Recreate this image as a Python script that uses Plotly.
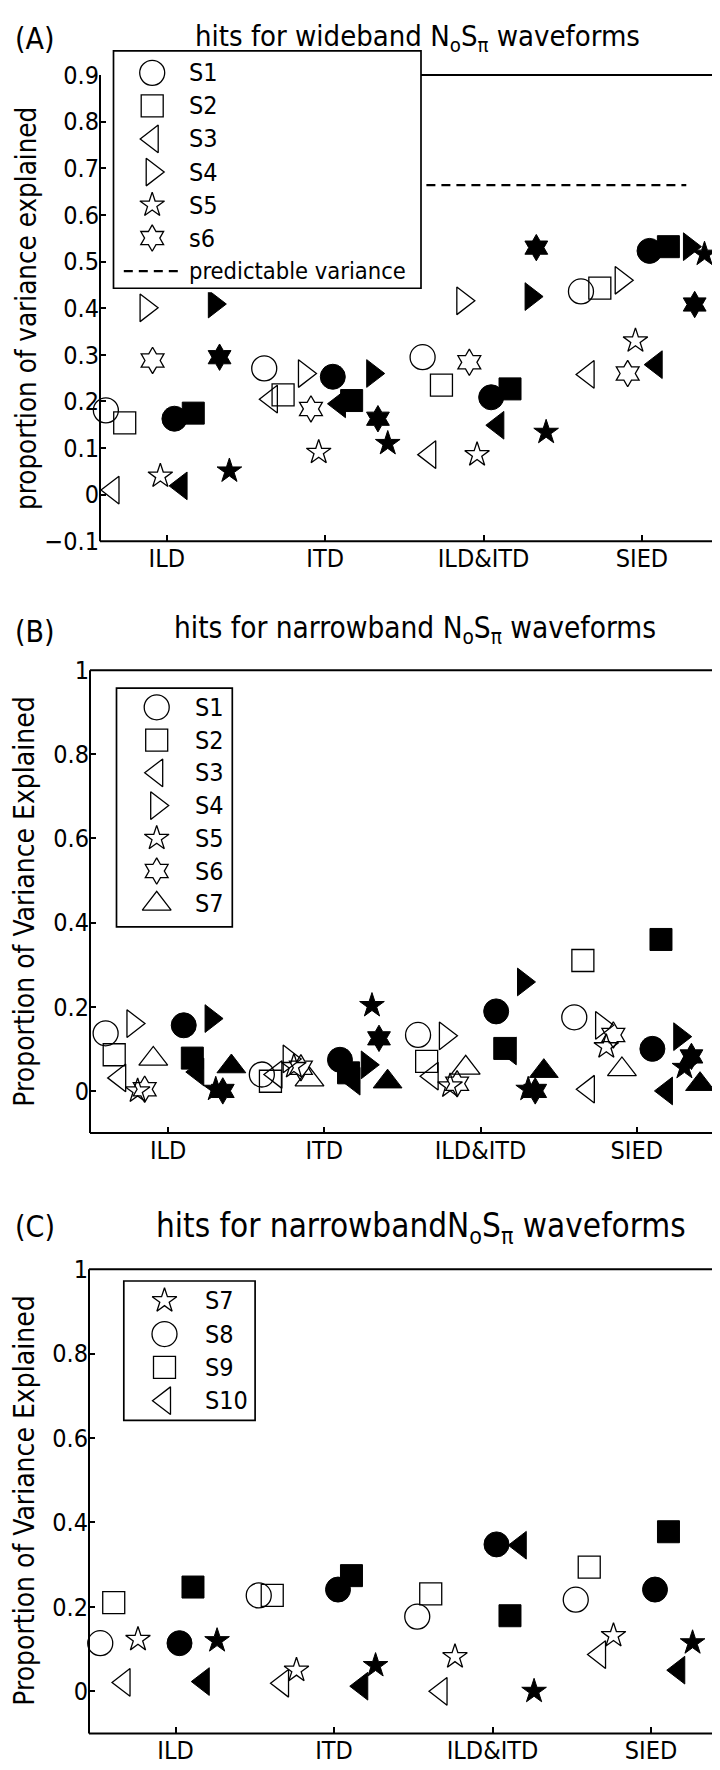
import plotly.graph_objects as go

# ---------------- data ----------------
categories = ["ILD", "ITD", "ILD&ITD", "SIED"]
cat_pos = [1, 2, 3, 4]

# Panel A: wideband NoSpi
a_subjects = ["S1", "S2", "S3", "S4", "S5", "s6"]
a_symbols = ["circle", "square", "triangle-left", "triangle-right", "star", "hexagram"]
a_open_offsets = [-0.385, -0.266, -0.34, -0.131, -0.041, -0.09]
a_fill_offsets = [0.048, 0.167, 0.09, 0.30, 0.395, 0.333]
a_open_S1 = [0.181, 0.271, 0.295, 0.436]
a_open_S2 = [0.154, 0.214, 0.235, 0.443]
a_open_S3 = [0.010, 0.205, 0.086, 0.258]
a_open_S4 = [0.401, 0.260, 0.416, 0.460]
a_open_S5 = [0.040, 0.091, 0.086, 0.330]
a_open_s6 = [0.288, 0.184, 0.284, 0.260]
a_fill_S1 = [0.163, 0.253, 0.209, 0.523]
a_fill_S2 = [0.175, 0.202, 0.227, 0.532]
a_fill_S3 = [0.019, 0.195, 0.149, 0.279]
a_fill_S4 = [0.409, 0.260, 0.425, 0.532]
a_fill_S5 = [0.051, 0.110, 0.134, 0.516]
a_fill_s6 = [0.295, 0.163, 0.530, 0.408]
a_open = [a_open_S1, a_open_S2, a_open_S3, a_open_S4, a_open_S5, a_open_s6]
a_fill = [a_fill_S1, a_fill_S2, a_fill_S3, a_fill_S4, a_fill_S5, a_fill_s6]
a_predictable = 0.664
a_predictable_x = [0.65, 4.28]

# Panel B: narrowband NoSpi, S1-S7
b_subjects = ["S1", "S2", "S3", "S4", "S5", "S6", "S7"]
b_symbols = ["circle", "square", "triangle-left", "triangle-right", "star", "hexagram", "triangle-up"]
b_open_offsets = [-0.40, -0.345, -0.31, -0.225, -0.195, -0.15, -0.095]
b_fill_offsets = [0.10, 0.155, 0.19, 0.275, 0.305, 0.35, 0.405]
b_open_S1 = [0.137, 0.039, 0.133, 0.175]
b_open_S2 = [0.086, 0.023, 0.070, 0.310]
b_open_S3 = [0.031, 0.039, 0.035, 0.004]
b_open_S4 = [0.160, 0.076, 0.131, 0.156]
b_open_S5 = [0.000, 0.058, 0.012, 0.105]
b_open_S6 = [0.004, 0.055, 0.017, 0.133]
b_open_S7 = [0.076, 0.027, 0.055, 0.051]
b_fill_S1 = [0.156, 0.074, 0.189, 0.100]
b_fill_S2 = [0.078, 0.043, 0.101, 0.360]
b_fill_S3 = [0.045, 0.023, 0.095, 0.000]
b_fill_S4 = [0.172, 0.062, 0.259, 0.129]
b_fill_S5 = [0.004, 0.203, 0.004, 0.056]
b_fill_S6 = [0.000, 0.125, 0.000, 0.082]
b_fill_S7 = [0.058, 0.022, 0.047, 0.016]
b_open = [b_open_S1, b_open_S2, b_open_S3, b_open_S4, b_open_S5, b_open_S6, b_open_S7]
b_fill = [b_fill_S1, b_fill_S2, b_fill_S3, b_fill_S4, b_fill_S5, b_fill_S6, b_fill_S7]

# Panel C: narrowband NoSpi, S7-S10
c_subjects = ["S7", "S8", "S9", "S10"]
c_symbols = ["star", "circle", "square", "triangle-left"]
c_open_offsets = [-0.237, -0.475, -0.39, -0.325]
c_fill_offsets = [0.262, 0.025, 0.11, 0.175]
c_open_S7 = [0.123, 0.050, 0.082, 0.132]
c_open_S8 = [0.114, 0.227, 0.177, 0.217]
c_open_S9 = [0.210, 0.227, 0.231, 0.294]
c_open_S10 = [0.021, 0.019, 0.000, 0.087]
c_fill_S7 = [0.120, 0.061, 0.000, 0.115]
c_fill_S8 = [0.114, 0.241, 0.348, 0.241]
c_fill_S9 = [0.247, 0.274, 0.179, 0.378]
c_fill_S10 = [0.023, 0.012, 0.346, 0.050]
c_open = [c_open_S7, c_open_S8, c_open_S9, c_open_S10]
c_fill = [c_fill_S7, c_fill_S8, c_fill_S9, c_fill_S10]

a_yticks = [-0.1, 0, 0.1, 0.2, 0.3, 0.4, 0.5, 0.6, 0.7, 0.8, 0.9]
bc_yticks = [0, 0.2, 0.4, 0.6, 0.8, 1]

# ---------------- styling ----------------
W, H = 720, 1770
FONT = "DejaVu Sans Condensed, Liberation Sans, sans-serif"
LW = 1.3      # marker outline width
AXW = 2       # axes frame line width
BOXW = 1.7    # legend box line width
SIZES = {"circle": 25, "square": 22, "triangle-left": 24, "triangle-right": 24,
         "triangle-up": 25, "star": 18.5, "hexagram": 20}


def px_x(p):
    return p / W


def px_y(p):
    return 1 - p / H


fig = go.Figure()
annotations = []
shapes = []


def add_panel(n, symbols, offsets_o, offsets_f, vals_o, vals_f):
    xa = "x" if n == 1 else "x%d" % n
    ya = "y" if n == 1 else "y%d" % n
    for sym, off, v in zip(symbols, offsets_o, vals_o):
        fig.add_trace(go.Scatter(
            x=[c + off for c in cat_pos], y=v, mode="markers", xaxis=xa, yaxis=ya,
            cliponaxis=False, showlegend=False,
            marker=dict(symbol=sym + "-open", size=SIZES[sym], color="black",
                        line=dict(color="black", width=LW))))
    for sym, off, v in zip(symbols, offsets_f, vals_f):
        fig.add_trace(go.Scatter(
            x=[c + off for c in cat_pos], y=v, mode="markers", xaxis=xa, yaxis=ya,
            cliponaxis=False, showlegend=False,
            marker=dict(symbol=sym, size=SIZES[sym], color="black",
                        line=dict(color="black", width=1))))


add_panel(1, a_symbols, a_open_offsets, a_fill_offsets, a_open, a_fill)
fig.add_trace(go.Scatter(x=a_predictable_x, y=[a_predictable, a_predictable], mode="lines",
                         xaxis="x", yaxis="y", showlegend=False,
                         line=dict(color="black", width=2.2, dash="9px,6px")))
add_panel(2, b_symbols, b_open_offsets, b_fill_offsets, b_open, b_fill)
add_panel(3, c_symbols, c_open_offsets, c_fill_offsets, c_open, c_fill)


def main_axes(n, xdom_px, ydom_px, xr, yr, yticks, top_start=0.0):
    xa = "xaxis" if n == 1 else "xaxis%d" % n
    ya = "yaxis" if n == 1 else "yaxis%d" % n
    xr_id = "x" if n == 1 else "x%d" % n
    yr_id = "y" if n == 1 else "y%d" % n
    common = dict(showline=False, ticks="inside", ticklen=6, tickwidth=1.6, tickcolor="black",
                  showgrid=False, zeroline=False,
                  tickfont=dict(family=FONT, size=25, color="black"), fixedrange=True)
    fig.layout[xa] = dict(domain=[px_x(xdom_px[0]), px_x(xdom_px[1])], range=xr,
                          tickvals=cat_pos, ticktext=categories, anchor=yr_id, **common)
    fig.layout[ya] = dict(domain=[px_y(ydom_px[1]), px_y(ydom_px[0])], range=yr,
                          tickvals=yticks, anchor=xr_id, **common)
    # frame of the axes box
    ln = dict(color="black", width=AXW)
    xd, yd = xr_id + " domain", yr_id + " domain"
    for (x0, y0, x1, y1) in [(0, 0, 0, 1), (1, 0, 1, 1), (0, 0, 1, 0), (top_start, 1, 1, 1)]:
        shapes.append(dict(type="line", xref=xd, yref=yd, x0=x0, y0=y0, x1=x1, y1=y1,
                           layer="above", line=ln))


LEG_A = (105.5, 413, 29.3, 270.7)
A_X = (92, 706)
main_axes(1, A_X, (54, 528), [0.578, 4.455], [-0.1, 0.9], a_yticks,
          top_start=(LEG_A[1] - A_X[0]) / (A_X[1] - A_X[0]))
main_axes(2, (82, 710), (659, 1129.5), [0.5, 4.52], [-0.1, 1], bc_yticks)
main_axes(3, (81, 715), (1268, 1740), [0.454, 4.454], [-0.1, 1], bc_yticks)

# ---------------- custom legends (own axes so they cover the data) ----------------
PAD = 4


def add_legend(n, box_px, first_y, spacing, labels, symbols, marker_x, text_x, dash_entry=None):
    x0, x1, y0, y1 = box_px
    bw, bh = x1 - x0, y1 - y0
    xa, ya = "x%d" % n, "y%d" % n
    fig.layout["xaxis%d" % n] = dict(domain=[px_x(x0 - PAD), px_x(x1 + PAD)], range=[-PAD, bw + PAD],
                                     visible=False, fixedrange=True, anchor=ya)
    fig.layout["yaxis%d" % n] = dict(domain=[px_y(y1 + PAD), px_y(y0 - PAD)], range=[bh + PAD, -PAD],
                                     visible=False, fixedrange=True, anchor=xa)
    shapes.append(dict(type="rect", xref=xa, yref=ya, x0=0, x1=bw, y0=0, y1=bh, layer="below",
                       fillcolor="white", line=dict(color="black", width=BOXW)))
    ys = [first_y - y0 + i * spacing for i in range(len(labels))]
    for lab, sym, yy in zip(labels, symbols, ys):
        fig.add_trace(go.Scatter(x=[marker_x - x0], y=[yy], mode="markers", xaxis=xa, yaxis=ya,
                                 cliponaxis=False, showlegend=False,
                                 marker=dict(symbol=sym + "-open", size=SIZES[sym], color="black",
                                             line=dict(color="black", width=LW))))
        annotations.append(dict(x=text_x - x0, y=yy, xref=xa, yref=ya, text=lab, showarrow=False,
                                xanchor="left", yanchor="middle",
                                font=dict(family=FONT, size=25, color="black")))
    if dash_entry is not None:
        lab, dx0, dx1 = dash_entry
        yy = first_y - y0 + len(labels) * spacing
        fig.add_trace(go.Scatter(x=[dx0 - x0, dx1 - x0], y=[yy, yy], mode="lines", xaxis=xa, yaxis=ya,
                                 showlegend=False, line=dict(color="black", width=2.2, dash="9px,6px")))
        annotations.append(dict(x=text_x - x0, y=yy, xref=xa, yref=ya, text=lab, showarrow=False,
                                xanchor="left", yanchor="middle",
                                font=dict(family=FONT, size=23.5, color="black")))


add_legend(4, LEG_A, 51.7, 33.6, a_subjects, a_symbols, 144.2, 178.5,
           dash_entry=("predictable variance", 115.8, 173.9))
add_legend(5, (108.5, 224.3, 677.3, 920), 696.7, 33.3, b_subjects, b_symbols, 148.7, 185.4)
add_legend(6, (115.8, 247.1, 1280, 1421.7), 1300, 33.9, c_subjects, c_symbols, 156.5, 194.5)

# ---------------- titles and labels ----------------
titles = [
    ("hits for wideband N<sub>o</sub>S<sub>π</sub> waveforms", 409.6, 16, 29),
    ("hits for narrowband N<sub>o</sub>S<sub>π</sub> waveforms", 406.9, 618, 29.5),
    ("hits for narrowbandN<sub>o</sub>S<sub>π</sub> waveforms", 412.6, 1226, 33),
]
for txt, cx, cy, fs in titles:
    annotations.append(dict(x=px_x(cx), y=px_y(cy), xref="paper", yref="paper", text=txt,
                            showarrow=False, xanchor="center", yanchor="middle",
                            font=dict(family=FONT, size=fs, color="black")))

panel_labels = [("(A)", 17), ("(B)", 620), ("(C)", 1225)]
for txt, cy in panel_labels:
    annotations.append(dict(x=px_x(5), y=px_y(cy), xref="paper", yref="paper", text=txt,
                            showarrow=False, xanchor="left", yanchor="middle",
                            font=dict(family=FONT, size=30, color="black")))

ylabels = [("proportion of variance explained", 17.5, 291.3, 27.5),
           ("Proportion of Variance Explained", 17, 894.3, 28),
           ("Proportion of Variance Explained", 16.5, 1503.9, 28)]
for txt, cx, cy, fs in ylabels:
    annotations.append(dict(x=px_x(cx), y=px_y(cy), xref="paper", yref="paper", text=txt,
                            showarrow=False, xanchor="center", yanchor="middle", textangle=-90,
                            borderpad=0,
                            font=dict(family=FONT, size=fs, color="black")))

fig.update_layout(width=W, height=H, margin=dict(l=0, r=0, t=0, b=0),
                  paper_bgcolor="white", plot_bgcolor="white", showlegend=False,
                  annotations=annotations, shapes=shapes)

fig.write_html("out.html")
